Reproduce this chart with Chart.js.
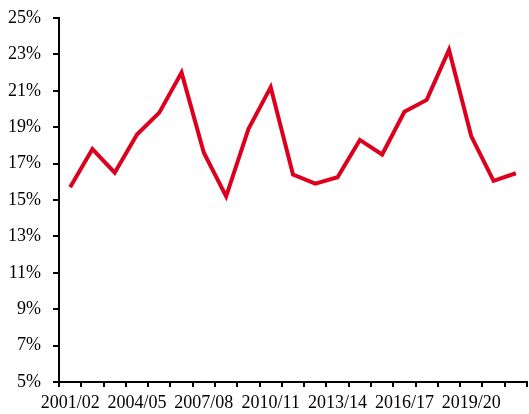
<!DOCTYPE html>
<html>
<head>
<meta charset="utf-8">
<script src="https://cdn.jsdelivr.net/npm/chart.js@4"></script>
<style>
html,body{margin:0;padding:0;background:#fff;}
#wrap{width:529px;height:414px;position:relative;}
</style>
</head>
<body>
<div id="wrap"><canvas id="c" width="529" height="414"></canvas></div>
<script>
const categories = ["2001/02","2002/03","2003/04","2004/05","2005/06","2006/07","2007/08","2008/09","2009/10","2010/11","2011/12","2012/13","2013/14","2014/15","2015/16","2016/17","2017/18","2018/19","2019/20","2020/21","2021/22"];
const values = [15.7,17.8,16.5,18.6,19.8,22.0,17.6,15.2,18.9,21.2,16.4,15.9,16.25,18.3,17.5,19.85,20.5,23.25,18.5,16.05,16.47];
const yTicks = {min:5, max:25, step:2};

new Chart(document.getElementById('c'), {
  type: 'line',
  data: {
    labels: categories,
    datasets: [{
      data: values,
      borderColor: '#DC001E',
      borderWidth: 4,
      pointRadius: 0,
      tension: 0,
      fill: false,
      borderJoinStyle: 'miter'
    }]
  },
  options: {
    responsive: false,
    animation: false,
    layout: {padding: {top: 18, right: 2, left: 0, bottom: 0}},
    plugins: {legend: {display: false}, tooltip: {enabled: false}},
    scales: {
      x: {
        offset: true,
        grid: {offset: true, drawOnChartArea: false, drawTicks: true, tickLength: 5, color: '#000', lineWidth: 2},
        border: {display: true, color: '#000', width: 2},
        ticks: {
          autoSkip: false, maxRotation: 0, minRotation: 0, padding: 5,
          color: '#000', font: {family: 'Liberation Serif', size: 18},
          callback: function(v, i) { return i % 3 === 0 ? categories[i] : ''; }
        },
        afterFit: function(s) { s.height = 32; s.paddingLeft = 0; s.paddingRight = 0; }
      },
      y: {
        min: yTicks.min, max: yTicks.max,
        grid: {drawOnChartArea: false, drawTicks: true, tickLength: 6, color: '#000', lineWidth: 2},
        border: {display: true, color: '#000', width: 2},
        ticks: {
          stepSize: yTicks.step, padding: 12, color: '#000',
          font: {family: 'Liberation Serif', size: 18},
          callback: function(v) { return v + '%'; }
        },
        afterFit: function(s) { s.width = 59; s.paddingTop = 0; s.paddingBottom = 0; }
      }
    }
  }
});
</script>
</body>
</html>
